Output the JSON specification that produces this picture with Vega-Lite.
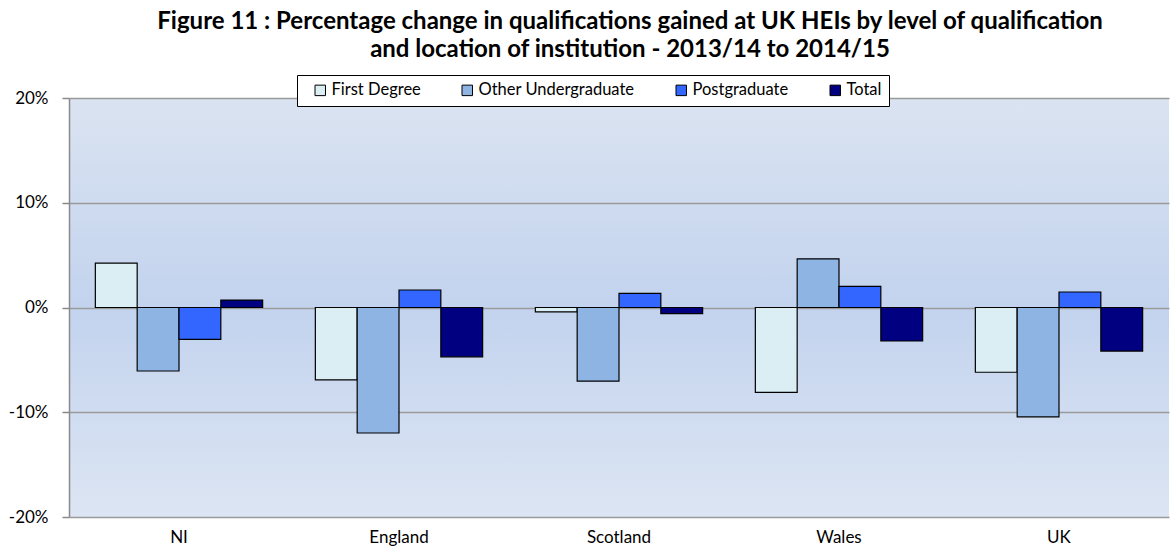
{
  "$schema": "https://vega.github.io/schema/vega-lite/v6.json",
  "width": 1100,
  "height": 419,
  "autosize": {"type": "none"},
  "padding": {"left": 69, "top": 98, "right": 1, "bottom": 34},
  "background": "white",
  "title": {
    "text": ["Figure 11 : Percentage change in qualifications gained at UK HEIs by level of qualification", "and location of institution - 2013/14 to 2014/15"],
    "anchor": "middle",
    "frame": "group",
    "dx": 11,
    "offset": 13,
    "font": "Lato",
    "fontSize": 24,
    "fontWeight": "bold",
    "color": "#000000",
    "lineHeight": 28
  },
  "config": {
    "view": {
      "stroke": null,
      "fill": {
        "gradient": "linear",
        "x1": 0, "y1": 0, "x2": 0, "y2": 1,
        "stops": [
          {"offset": 0, "color": "#DAE3F1"},
          {"offset": 0.5, "color": "#C3D3EE"},
          {"offset": 1, "color": "#DCE5F3"}
        ]
      }
    },
    "font": "Lato"
  },
  "data": {
    "values": [
      {"location": "NI", "level": "First Degree", "change": 4.23},
      {"location": "NI", "level": "Other Undergraduate", "change": -6.06},
      {"location": "NI", "level": "Postgraduate", "change": -3.04},
      {"location": "NI", "level": "Total", "change": 0.71},
      {"location": "England", "level": "First Degree", "change": -6.9},
      {"location": "England", "level": "Other Undergraduate", "change": -11.98},
      {"location": "England", "level": "Postgraduate", "change": 1.67},
      {"location": "England", "level": "Total", "change": -4.71},
      {"location": "Scotland", "level": "First Degree", "change": -0.41},
      {"location": "Scotland", "level": "Other Undergraduate", "change": -7.02},
      {"location": "Scotland", "level": "Postgraduate", "change": 1.35},
      {"location": "Scotland", "level": "Total", "change": -0.58},
      {"location": "Wales", "level": "First Degree", "change": -8.1},
      {"location": "Wales", "level": "Other Undergraduate", "change": 4.65},
      {"location": "Wales", "level": "Postgraduate", "change": 2.02},
      {"location": "Wales", "level": "Total", "change": -3.2},
      {"location": "UK", "level": "First Degree", "change": -6.18},
      {"location": "UK", "level": "Other Undergraduate", "change": -10.44},
      {"location": "UK", "level": "Postgraduate", "change": 1.48},
      {"location": "UK", "level": "Total", "change": -4.16}
    ]
  },
  "mark": {"type": "bar", "stroke": "#000000", "strokeWidth": 1.2, "opacity": 1},
  "encoding": {
    "x": {
      "field": "location",
      "type": "nominal",
      "sort": ["NI", "England", "Scotland", "Wales", "UK"],
      "scale": {"paddingInner": 0, "paddingOuter": 0},
      "axis": {
        "title": null,
        "labelAngle": 0,
        "domain": false,
        "ticks": false,
        "labelPadding": 12,
        "labelFontSize": 17,
        "labelColor": "#000000",
        "labelFont": "Lato"
      }
    },
    "xOffset": {
      "field": "level",
      "type": "nominal",
      "sort": ["First Degree", "Other Undergraduate", "Postgraduate", "Total"],
      "scale": {"paddingInner": 0, "paddingOuter": 0.63}
    },
    "y": {
      "field": "change",
      "type": "quantitative",
      "scale": {"domain": [-20, 20], "nice": false, "zero": true},
      "axis": {
        "title": null,
        "values": [-20, -10, 0, 10, 20],
        "labelExpr": "datum.value + '%'",
        "grid": true,
        "gridColor": "#9A9A9A",
        "gridWidth": 1.5,
        "domainColor": "#8A8A8A",
        "domainWidth": 1.5,
        "tickColor": "#8A8A8A",
        "tickSize": 7,
        "tickWidth": 1.5,
        "labelPadding": 14,
        "labelFontSize": 17,
        "labelColor": "#000000",
        "labelFont": "Lato"
      }
    },
    "color": {
      "field": "level",
      "type": "nominal",
      "sort": ["First Degree", "Other Undergraduate", "Postgraduate", "Total"],
      "scale": {
        "domain": ["First Degree", "Other Undergraduate", "Postgraduate", "Total"],
        "range": ["#DAEEF3", "#8EB4E3", "#3366FF", "#000080"]
      },
      "legend": {
        "title": " ",
        "titleOrient": "left",
        "titlePadding": 8,
        "orient": "none",
        "direction": "horizontal",
        "legendX": 228,
        "legendY": -23,
        "fillColor": "#FFFFFF",
        "strokeColor": "#000000",
        "padding": 7,
        "symbolType": "square",
        "symbolSize": 110,
        "symbolStrokeColor": "#000000",
        "symbolStrokeWidth": 1,
        "symbolOpacity": 1,
        "labelFontSize": 16.5,
        "labelFont": "Lato",
        "labelColor": "#000000",
        "labelOffset": 3,
        "columnPadding": 38
      }
    }
  }
}
